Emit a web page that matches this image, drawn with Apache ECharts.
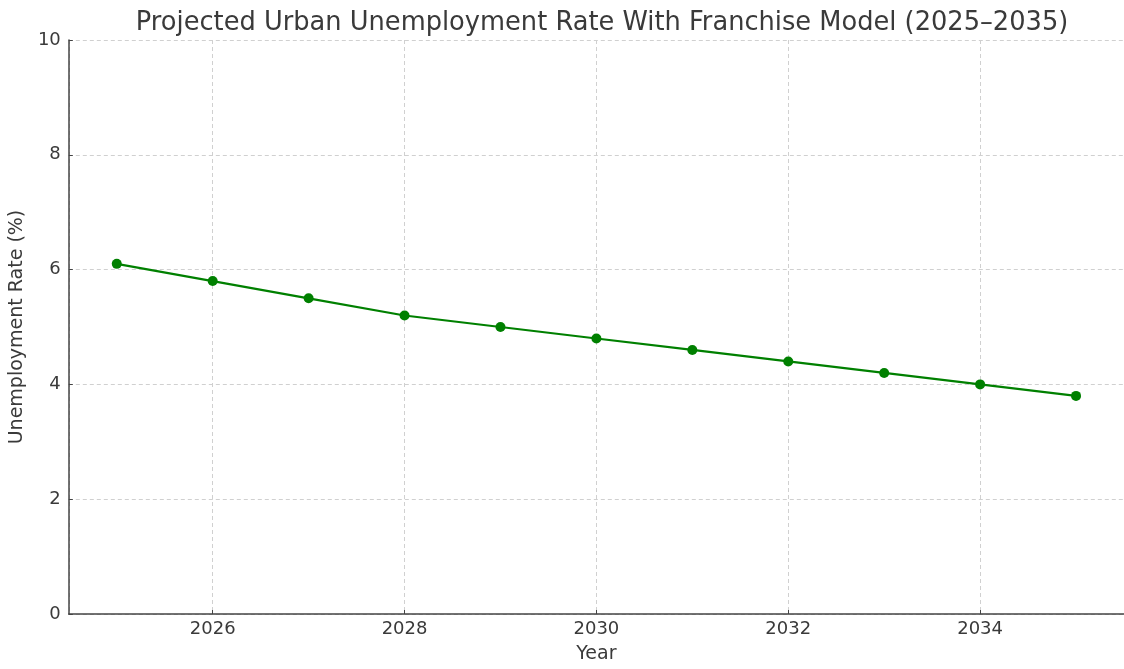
<!DOCTYPE html>
<html>
<head>
<meta charset="utf-8">
<script src="https://cdn.jsdelivr.net/npm/echarts@6/dist/echarts.min.js"></script>
<style>html,body{margin:0;padding:0;background:#fff;}#c{width:1124px;height:669px;}</style>
</head>
<body>
<div id="c"></div>
<script>
const years = [2025, 2026, 2027, 2028, 2029, 2030, 2031, 2032, 2033, 2034, 2035];
const rates = [6.1, 5.8, 5.5, 5.2, 5.0, 4.8, 4.6, 4.4, 4.2, 4.0, 3.8];
const titleText = 'Projected Urban Unemployment Rate With Franchise Model (2025–2035)';
const xName = 'Year';
const yName = 'Unemployment Rate (%)';

const chart = echarts.init(document.getElementById('c'), null, {renderer: 'canvas'});
const font = 'DejaVu Sans';
const textColor = '#3a3a3a';
chart.setOption({
  animation: false,
  backgroundColor: '#ffffff',
  title: {
    text: titleText,
    left: 597, top: 5, textAlign: 'center',
    textStyle: {fontFamily: font, fontSize: 25.7, fontWeight: 'normal', color: textColor}
  },
  grid: {left: 66, right: -4, top: 40, bottom: 51, containLabel: false},
  xAxis: {
    type: 'value', min: 2024.5, max: 2035.5, splitNumber: 5,
    name: xName, nameLocation: 'middle', nameGap: 31,
    nameTextStyle: {fontFamily: font, fontSize: 19, color: textColor},
    axisLine: {show: true, lineStyle: {color: '#444', width: 1.5}},
    axisTick: {show: true, inside: true, length: 4, lineStyle: {color: '#444'}},
    axisLabel: {
      fontFamily: font, fontSize: 18, color: textColor, margin: 6,
      showMinLabel: false, showMaxLabel: false,
      formatter: v => (Number.isInteger(v) ? String(v) : '')
    },
    splitLine: {show: true, lineStyle: {color: '#d0d0d0', type: [4, 3], width: 1}}
  },
  yAxis: {
    type: 'value', min: 0, max: 10, interval: 2,
    name: yName, nameLocation: 'middle', nameGap: 38, nameRotate: 90,
    nameTextStyle: {fontFamily: font, fontSize: 19, color: textColor},
    axisLine: {show: true, lineStyle: {color: '#444', width: 1.5}},
    axisTick: {show: true, inside: true, length: 4, lineStyle: {color: '#444'}},
    axisLabel: {fontFamily: font, fontSize: 18, color: textColor, margin: 8},
    splitLine: {show: true, lineStyle: {color: '#d0d0d0', type: [4, 3], width: 1}}
  },
  series: [{
    type: 'line',
    data: years.map((y, i) => [y, rates[i]]),
    lineStyle: {color: '#008000', width: 2.2},
    itemStyle: {color: '#008000'},
    symbol: 'circle', symbolSize: 10,
    clip: false
  }]
});
</script>
</body>
</html>
